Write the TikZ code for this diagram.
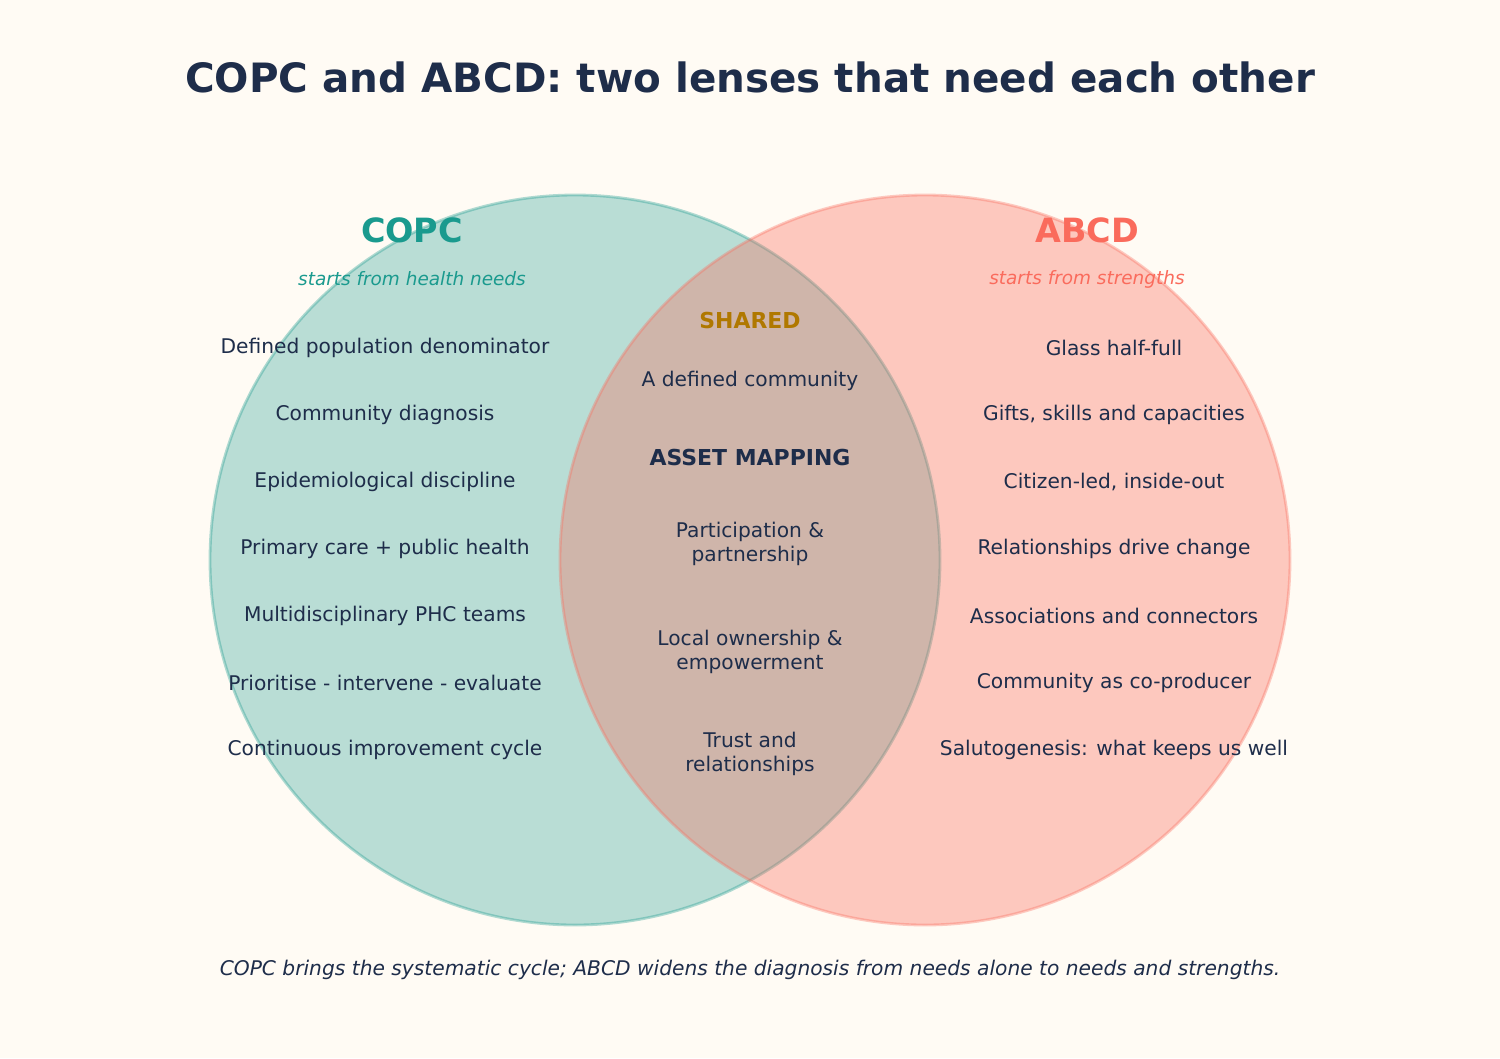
\documentclass[tikz,border=0pt]{standalone}
\usepackage{fontspec}
\setmainfont{DejaVu Sans}
\definecolor{bgcol}{HTML}{FFFBF4}
\definecolor{navy}{HTML}{1E2D4A}
\definecolor{teal}{HTML}{1A9A8E}
\definecolor{coral}{HTML}{FA6B5C}
\definecolor{gold}{HTML}{B07800}
\tikzset{
    item/.style={text=navy, font=\fontsize{11.5}{13.5}\selectfont, align=center},
    head/.style={font=\fontsize{19}{22}\selectfont\bfseries},
    sub/.style={font=\fontsize{10.5}{12}\selectfont\itshape},
}
\begin{document}
\begin{tikzpicture}[x=0.02cm, y=-0.02cm]
    % Background
    \fill[bgcol] (0,0) rectangle (1500,1058);
    \useasboundingbox (0,0) rectangle (1500,1058);

    % Circles
    \fill[teal, fill opacity=0.3] (575,560) circle (365);
    \draw[teal, draw opacity=0.35, line width=1.6pt] (575,560) circle (365);
    \fill[coral, fill opacity=0.35] (925,560) circle (365);
    \draw[coral, draw opacity=0.35, line width=1.6pt] (925,560) circle (365);

    % Title
    \node[text=navy, font=\fontsize{23}{26}\selectfont\bfseries] (title) at (750,77) {COPC and ABCD: two lenses that need each other};

    % Headings
    \node[head, text=teal] (copc) at (412,230) {COPC};
    \node[sub, text=teal] (copcsub) at (412,279) {starts from health needs};
    \node[head, text=coral] (abcd) at (1087,230) {ABCD};
    \node[sub, text=coral] (abcdsub) at (1087,279) {starts from strengths};
    \node[text=gold, font=\fontsize{12.5}{14}\selectfont\bfseries] (shared) at (750,321) {SHARED};

    % COPC items
    \foreach \t [count=\i] in {Defined population denominator, Community diagnosis,
        Epidemiological discipline, Primary care + public health, Multidisciplinary PHC teams,
        Prioritise - intervene - evaluate, Continuous improvement cycle} {
        \node[item] (copc\i) at (385, 281+\i*67) {\t};
    }

    % ABCD items
    \foreach \t [count=\i] in {Glass half-full, {Gifts, skills and capacities},
        {Citizen-led, inside-out}, Relationships drive change, Associations and connectors,
        Community as co-producer, Salutogenesis: what keeps us well} {
        \node[item] (abcd\i) at (1114, 281+\i*67) {\t};
    }

    % Shared items
    \node[item] (sh1) at (750,381) {A defined community};
    \node[item, font=\fontsize{12.5}{14}\selectfont\bfseries] (sh2) at (750,457) {ASSET MAPPING};
    \node[item] (sh3) at (750,544) {Participation \&\\partnership};
    \node[item] (sh4) at (750,652) {Local ownership \&\\empowerment};
    \node[item] (sh5) at (750,754) {Trust and\\relationships};

    % Footer
    \node[text=navy, font=\fontsize{11.5}{13}\selectfont\itshape] (foot) at (750,970) {COPC brings the systematic cycle; ABCD widens the diagnosis from needs alone to needs and strengths.};
\end{tikzpicture}
\end{document}
